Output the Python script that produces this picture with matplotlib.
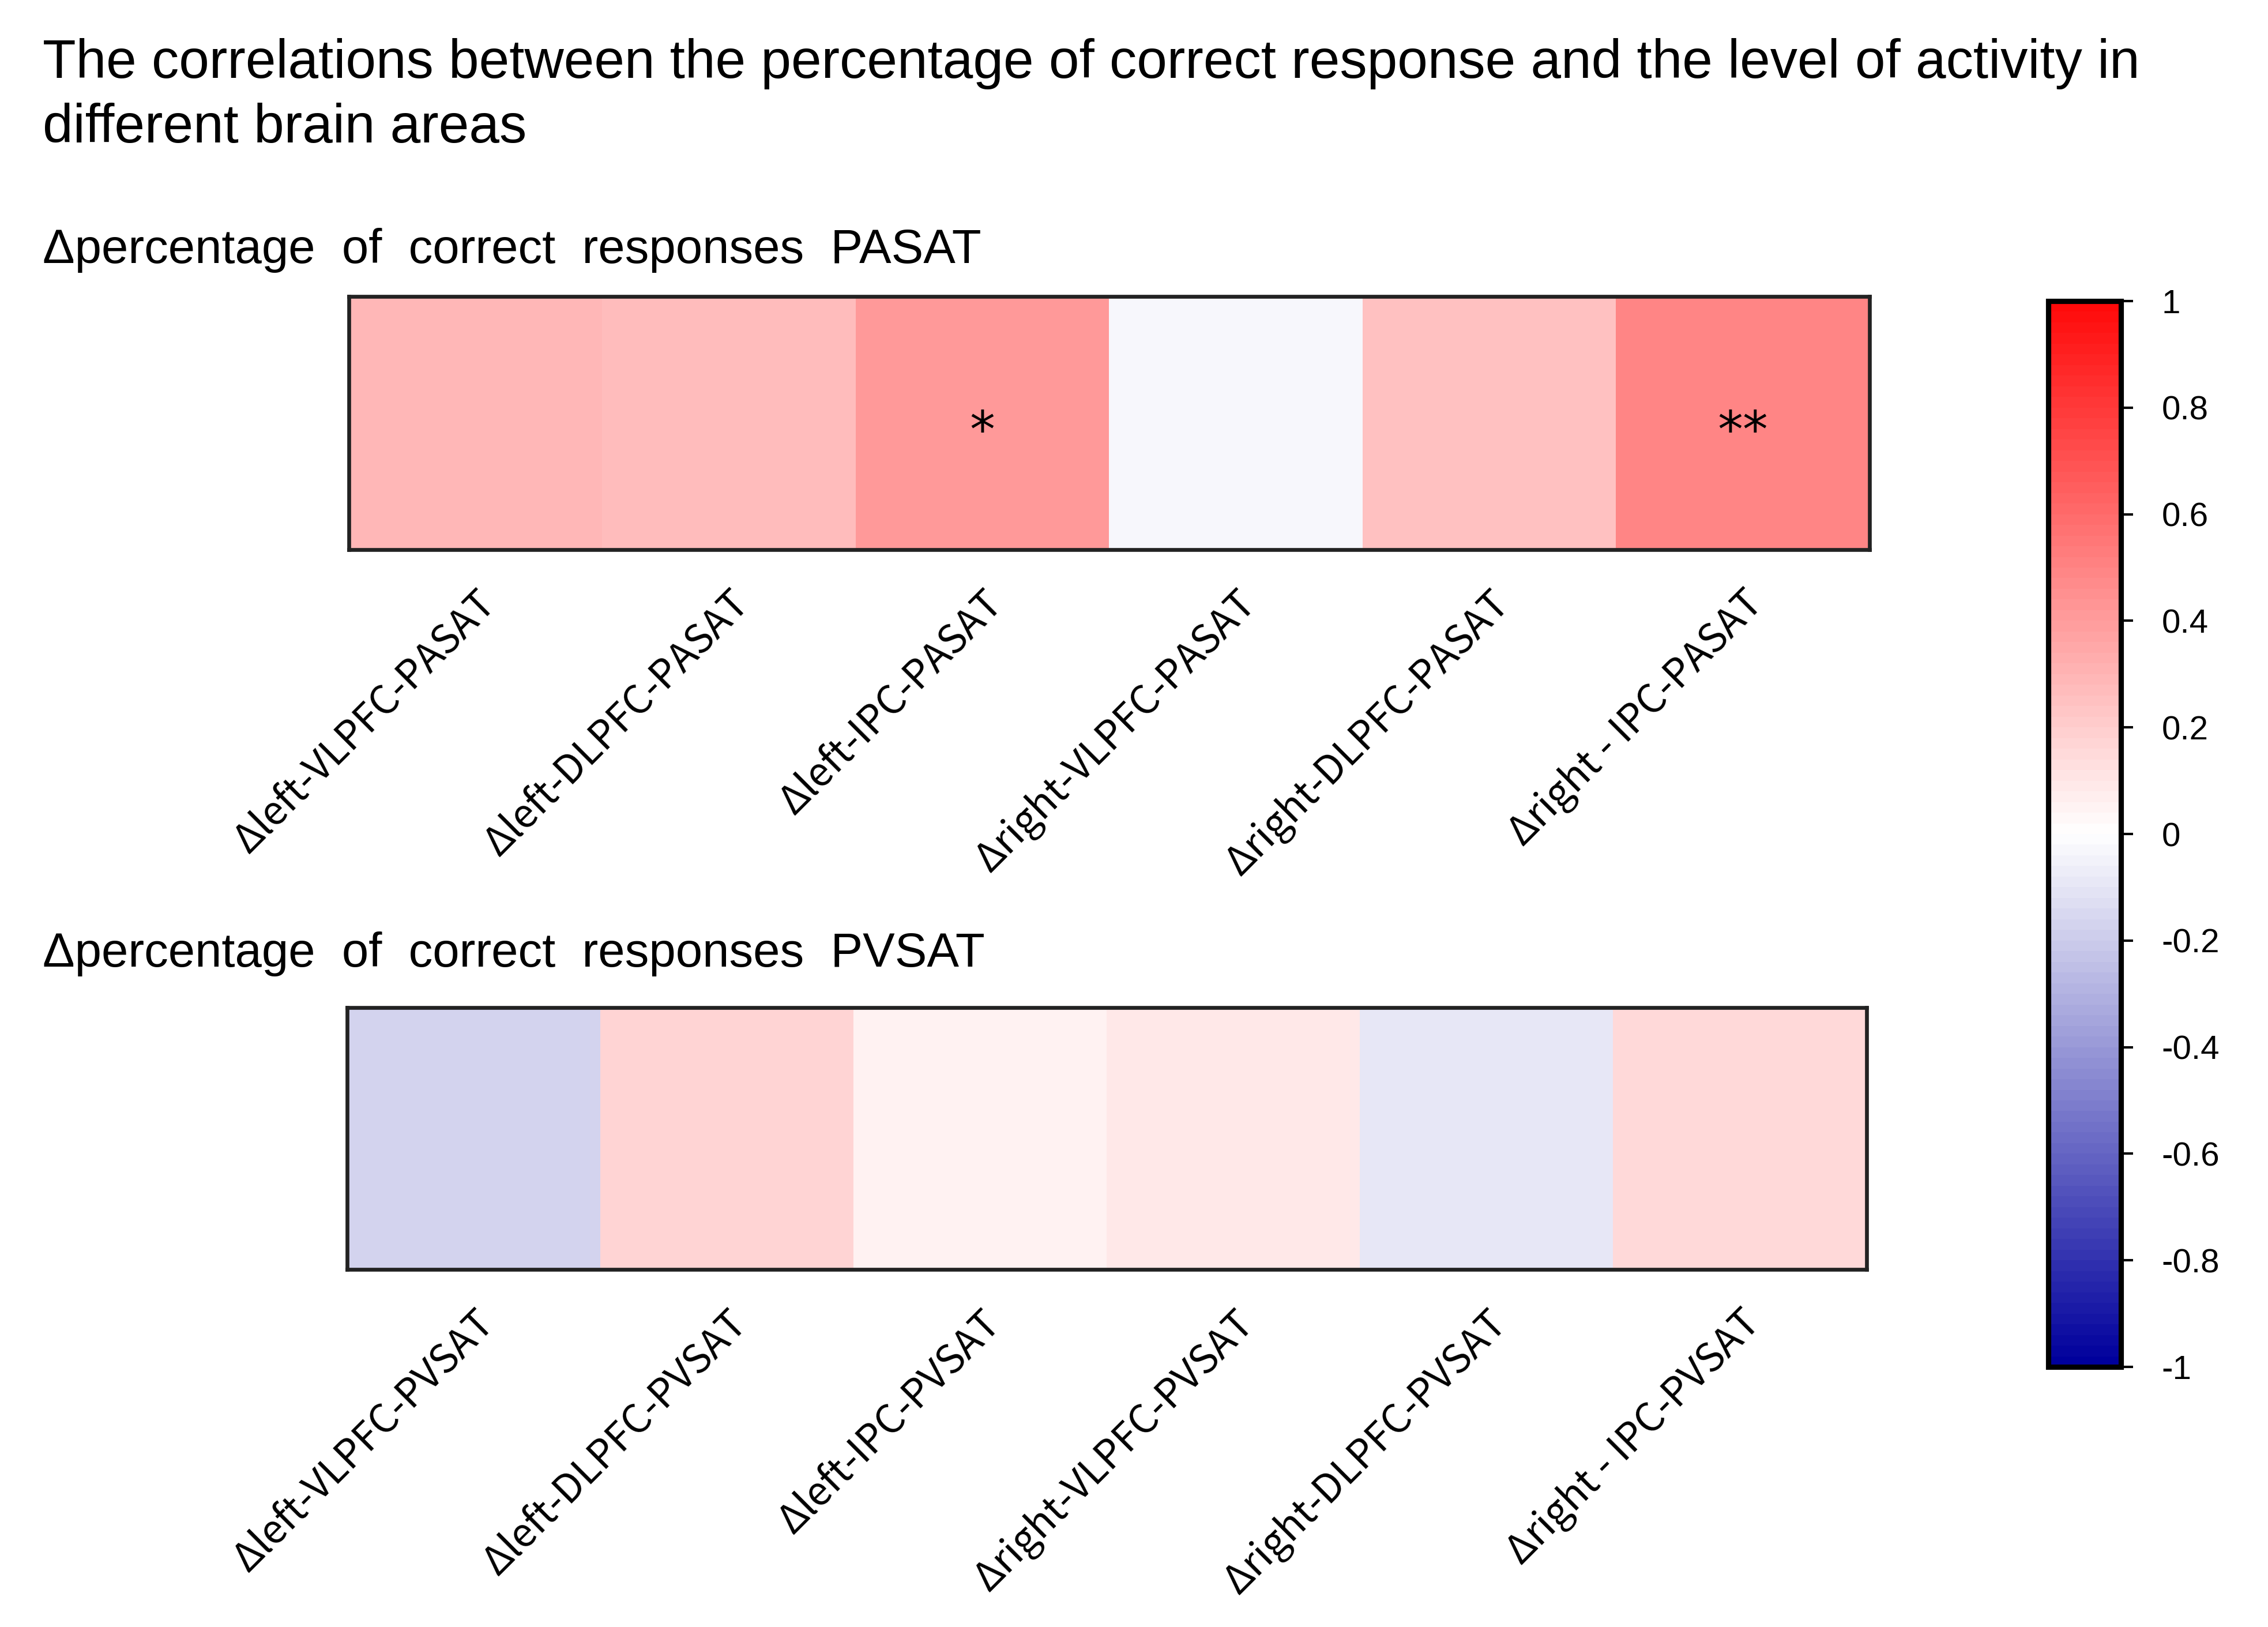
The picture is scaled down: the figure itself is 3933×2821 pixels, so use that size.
import numpy as np
import matplotlib
matplotlib.use('Agg')
import matplotlib.pyplot as plt
from matplotlib.colors import LinearSegmentedColormap

plt.rcParams['font.family'] = ['Liberation Sans', 'DejaVu Sans']
plt.rcParams['axes.unicode_minus'] = False

# data (correlation coefficients)
pasat_labels = ['Δleft-VLPFC-PASAT', 'Δleft-DLPFC-PASAT', 'Δleft-IPC-PASAT',
                'Δright-VLPFC-PASAT', 'Δright-DLPFC-PASAT', 'Δright - IPC-PASAT']
pasat_r = [0.29, 0.26, 0.40, -0.04, 0.24, 0.48]
pasat_sig = ['', '', '*', '', '', '**']

pvsat_labels = ['Δleft-VLPFC-PVSAT', 'Δleft-DLPFC-PVSAT', 'Δleft-IPC-PVSAT',
                'Δright-VLPFC-PVSAT', 'Δright-DLPFC-PVSAT', 'Δright - IPC-PVSAT']
pvsat_r = [-0.18, 0.165, 0.045, 0.095, -0.09, 0.15]

cbar_ticks = [1, 0.8, 0.6, 0.4, 0.2, 0, -0.2, -0.4, -0.6, -0.8, -1]

cmap = LinearSegmentedColormap.from_list('bwr2', ['#00009C', '#ffffff', '#FF0A0A'], N=100)

W, H = 3933, 2821
fig = plt.figure(figsize=(W / 300, H / 300), dpi=300)

fig.text(74 / W, 1 - 66 / H,
         'The correlations between the percentage of correct response and the level of activity in\n'
         'different brain areas', fontsize=22.7, va='top', ha='left', linespacing=1.33)

fig.text(74 / W, 1 - 434 / H, 'Δpercentage  of  correct  responses  PASAT',
         fontsize=20, va='center', ha='left')
fig.text(74 / W, 1 - 1654 / H, 'Δpercentage  of  correct  responses  PVSAT',
         fontsize=20, va='center', ha='left')

lab_font = ['Noto Sans CJK JP', 'DejaVu Sans']


def heat(rect, vals, labels, sig=None):
    ax = fig.add_axes(rect)
    im = ax.imshow(np.array(vals)[None, :], cmap=cmap, vmin=-1, vmax=1, aspect='auto')
    ax.set_yticks([])
    ax.set_xticks(range(len(vals)))
    ax.set_xticklabels(labels, rotation=45, ha='right', rotation_mode='anchor',
                       fontsize=16.5, family=lab_font)
    ax.tick_params(axis='x', length=0, pad=14)
    for s in ax.spines.values():
        s.set_linewidth(1.6)
        s.set_color('#222222')
    if sig is not None:
        for i, t in enumerate(sig):
            if t:
                ax.text(i, 0.04, t, ha='center', va='center', fontsize=21, family='DejaVu Sans')
    return im


im = heat([605 / W, 1 - 953 / H, 2637 / W, 439 / H], pasat_r, pasat_labels, pasat_sig)
heat([602 / W, 1 - 2201 / H, 2635 / W, 454 / H], pvsat_r, pvsat_labels)

cax = fig.add_axes([3552 / W, 1 - 2370 / H, 126 / W, 1848 / H])
cb = fig.colorbar(im, cax=cax, ticks=cbar_ticks)
cb.ax.set_yticklabels([('%g' % t) for t in cbar_ticks])
cb.ax.tick_params(labelsize=14, length=5, width=1, pad=12)
cb.outline.set_linewidth(2.2)

fig.savefig('out.png', dpi=300, facecolor='white')
